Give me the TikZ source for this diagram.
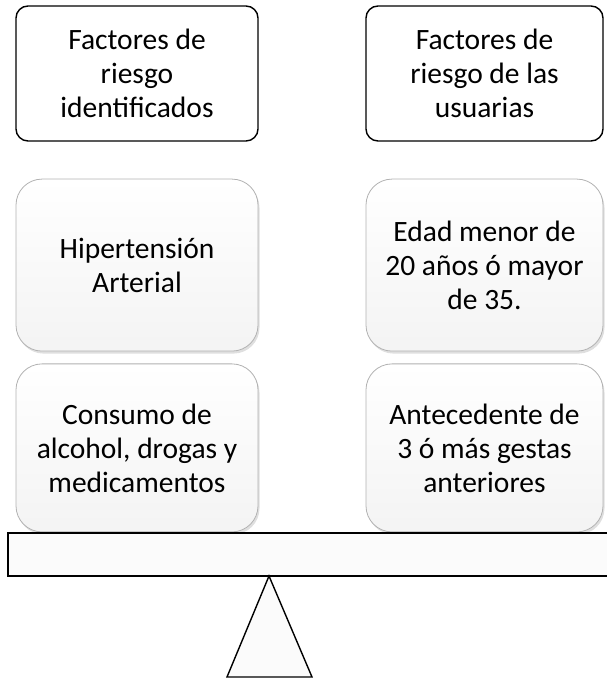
\documentclass[tikz,border=0pt]{standalone}
\usepackage{fontspec}
\setmainfont{Carlito}
\usetikzlibrary{positioning}
\usetikzlibrary{shadows}
\tikzset{head/.style = {draw, line width=1.4pt, rounded corners=12pt, align=center,
    minimum width=242pt, minimum height=135pt, font=\fontsize{29.5}{34}\selectfont}}
\tikzset{factor/.style = {draw=gray!60, line width=0.8pt, rounded corners=26pt, align=center,
    top color=white, bottom color=gray!9, minimum width=242pt,
    drop shadow={opacity=0.25, shadow xshift=1.5pt, shadow yshift=-2.5pt},
    font=\fontsize{29.5}{34}\selectfont}}
\tikzset{support/.style = {draw, line width=1.4pt, fill=gray!3}}

\begin{document}
\begin{tikzpicture}[x=1pt, y=1pt]
      \useasboundingbox (0, 0) rectangle (606, 680);

      % encabezados
      \node [head] (identificados) at (137, 606.5) {Factores de\\ riesgo\\ identificados};
      \node [head, minimum width=237pt] (usuarias) at (484.5, 606.5) {Factores de\\ riesgo de las\\ usuarias};

      % factores de cada lado
      \node [factor, minimum height=172pt, below=37pt of identificados] (hipertension) {Hipertensi\'on\\ Arterial};
      \node [factor, minimum height=168pt, below=12pt of hipertension] (consumo) {Consumo de\\ alcohol, drogas y\\ medicamentos};
      \node [factor, minimum width=237pt, minimum height=172pt, below=37pt of usuarias] (edad) {Edad menor de\\ 20 a\~nos \'o mayor\\ de 35.};
      \node [factor, minimum width=237pt, minimum height=168pt, below=12pt of edad] (antecedente) {Antecedente de\\ 3 \'o m\'as gestas\\ anteriores};

      % balanza
      \draw [support] (8, 104) rectangle (612, 147);
      \coordinate (apoyo) at (269, 104);
      \draw [support] (apoyo) -- (312, 3) -- (227, 3) -- cycle;
    \end{tikzpicture}
\end{document}
